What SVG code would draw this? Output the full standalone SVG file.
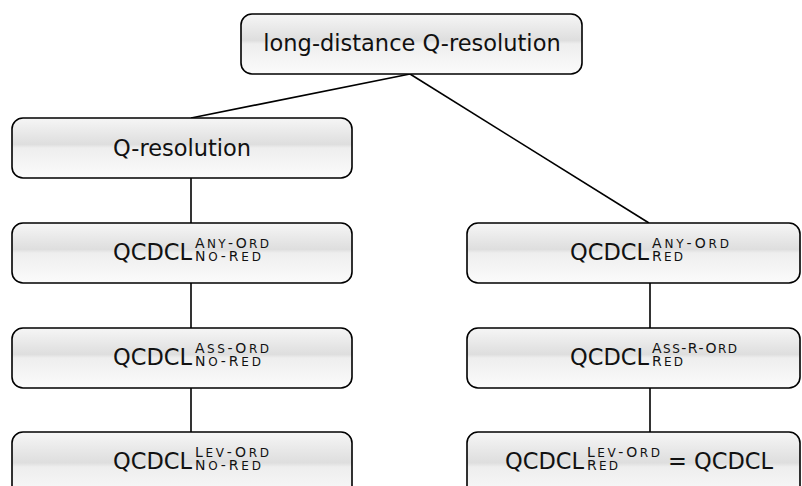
<svg xmlns="http://www.w3.org/2000/svg" width="802" height="486" viewBox="0 0 802 486">
<defs>
<linearGradient id="g" x1="0" y1="0" x2="0" y2="1">
<stop offset="0" stop-color="#f6f6f6"/>
<stop offset="0.44" stop-color="#dedede"/>
<stop offset="0.5" stop-color="#eeeeee"/>
<stop offset="1" stop-color="#fbfbfb"/>
</linearGradient>
</defs>
<style>
.box{fill:url(#g);stroke:#000;stroke-width:1.6}
.t{font-family:"DejaVu Sans",sans-serif;font-size:22.5px;fill:#111}
.s{font-family:"DejaVu Sans",sans-serif;font-size:14px;fill:#111}
.sc{font-size:12px}
.c{stroke:#000;stroke-width:1.6;fill:none}
</style>
<g id="connectors">
<line class="c" x1="410" y1="74" x2="191" y2="118"/>
<line class="c" x1="410" y1="74" x2="649" y2="223"/>
<line class="c" x1="191" y1="178" x2="191" y2="223"/>
<line class="c" x1="191" y1="283" x2="191" y2="328"/>
<line class="c" x1="191" y1="388" x2="191" y2="432"/>
<line class="c" x1="650" y1="283" x2="650" y2="328"/>
<line class="c" x1="650" y1="388" x2="650" y2="432"/>
</g>
<g id="n-ldqres">
<rect class="box" x="241" y="14" width="341" height="60" rx="11"/>
<text class="t" x="412" y="51" text-anchor="middle">long-distance Q-resolution</text>
</g>
<g id="n-qres">
<rect class="box" x="12" y="118" width="340" height="60" rx="11"/>
<text class="t" x="182" y="156" text-anchor="middle">Q-resolution</text>
</g>
<g id="n-any-nored">
<rect class="box" x="12" y="223" width="340" height="60" rx="11"/>
<text class="t" x="113" y="260">QCDCL</text>
<text class="s" x="195" y="248" textLength="74">A<tspan class="sc">NY</tspan>-O<tspan class="sc">RD</tspan></text>
<text class="s" x="195" y="261" textLength="66">N<tspan class="sc">O</tspan>-R<tspan class="sc">ED</tspan></text>
</g>
<g id="n-ass-nored">
<rect class="box" x="12" y="328" width="340" height="60" rx="11"/>
<text class="t" x="113" y="365">QCDCL</text>
<text class="s" x="195" y="353" textLength="74">A<tspan class="sc">SS</tspan>-O<tspan class="sc">RD</tspan></text>
<text class="s" x="195" y="366" textLength="66">N<tspan class="sc">O</tspan>-R<tspan class="sc">ED</tspan></text>
</g>
<g id="n-lev-nored">
<rect class="box" x="12" y="432" width="340" height="70" rx="11"/>
<text class="t" x="113" y="469">QCDCL</text>
<text class="s" x="195" y="457" textLength="74">L<tspan class="sc">EV</tspan>-O<tspan class="sc">RD</tspan></text>
<text class="s" x="195" y="470" textLength="66">N<tspan class="sc">O</tspan>-R<tspan class="sc">ED</tspan></text>
</g>
<g id="n-any-red">
<rect class="box" x="467" y="223" width="333" height="60" rx="11"/>
<text class="t" x="570" y="260">QCDCL</text>
<text class="s" x="652" y="248" textLength="77">A<tspan class="sc">NY</tspan>-O<tspan class="sc">RD</tspan></text>
<text class="s" x="652" y="261" textLength="31">R<tspan class="sc">ED</tspan></text>
</g>
<g id="n-assr-red">
<rect class="box" x="467" y="328" width="333" height="60" rx="11"/>
<text class="t" x="570" y="365">QCDCL</text>
<text class="s" x="652" y="353" textLength="85">A<tspan class="sc">SS</tspan>-R-O<tspan class="sc">RD</tspan></text>
<text class="s" x="652" y="366" textLength="31">R<tspan class="sc">ED</tspan></text>
</g>
<g id="n-lev-red">
<rect class="box" x="467" y="432" width="333" height="70" rx="11"/>
<text class="t" x="505" y="469">QCDCL</text>
<text class="s" x="587" y="457" textLength="73">L<tspan class="sc">EV</tspan>-O<tspan class="sc">RD</tspan></text>
<text class="s" x="587" y="470" textLength="31">R<tspan class="sc">ED</tspan></text>
<text class="t" x="668" y="469">= QCDCL</text>
</g>
</svg>
